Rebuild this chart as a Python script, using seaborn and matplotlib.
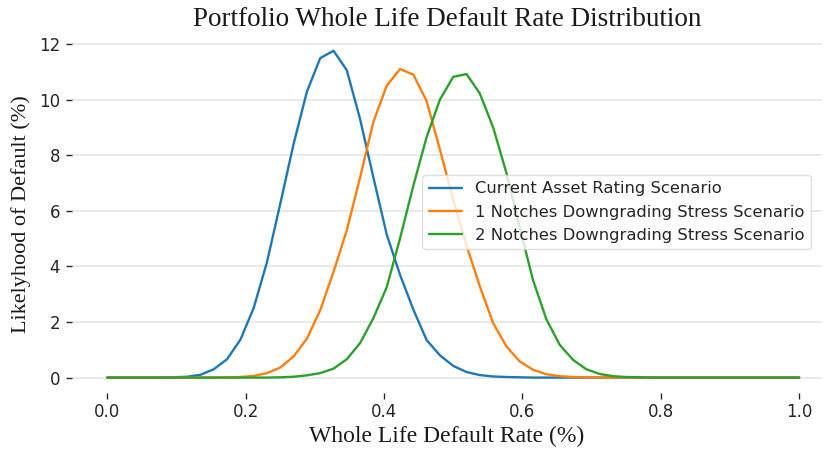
import numpy as np
import pandas as pd
import matplotlib
matplotlib.use("Agg")
import matplotlib.pyplot as plt
import seaborn as sns

# ---- data ----
default_rate = [i / 52 for i in range(53)]

current = [0, 0, 0, 0, 0, 0.01, 0.03, 0.10, 0.30, 0.66,
           1.36, 2.50, 4.15, 6.25, 8.40, 10.28, 11.49, 11.76, 11.06, 9.30,
           7.20, 5.15, 3.70, 2.45, 1.35, 0.80, 0.42, 0.20, 0.09, 0.04,
           0.02, 0.01, 0, 0, 0, 0, 0, 0, 0, 0,
           0, 0, 0, 0, 0, 0, 0, 0, 0, 0,
           0, 0, 0]

one_notch = [0, 0, 0, 0, 0, 0, 0, 0, 0, 0.01,
             0.02, 0.06, 0.16, 0.36, 0.76, 1.40, 2.42, 3.80, 5.30, 7.20,
             9.20, 10.50, 11.10, 10.90, 9.95, 8.20, 6.40, 4.75, 3.28, 1.96,
             1.12, 0.58, 0.28, 0.12, 0.05, 0.02, 0.01, 0, 0, 0,
             0, 0, 0, 0, 0, 0, 0, 0, 0, 0,
             0, 0, 0]

two_notch = [0, 0, 0, 0, 0, 0, 0, 0, 0, 0,
             0, 0, 0, 0.01, 0.03, 0.08, 0.16, 0.32, 0.66, 1.24,
             2.14, 3.25, 5.00, 6.90, 8.65, 10.00, 10.82, 10.92, 10.22, 9.00,
             7.36, 5.40, 3.50, 2.10, 1.18, 0.64, 0.30, 0.13, 0.05, 0.02,
             0.01, 0, 0, 0, 0, 0, 0, 0, 0, 0,
             0, 0, 0]

series_names = ["Current Asset Rating Scenario",
                "1 Notches Downgrading Stress Scenario",
                "2 Notches Downgrading Stress Scenario"]
series_values = [current, one_notch, two_notch]
colors = ["#1f77b4", "#ff7f0e", "#2ca02c"]

x_ticks = [0.0, 0.2, 0.4, 0.6, 0.8, 1.0]
y_ticks = [0, 2, 4, 6, 8, 10, 12]

# ---- style ----
sns.set_theme(style="white")
plt.rcParams["font.family"] = ["DejaVu Sans"]

fig = plt.figure(figsize=(8.24, 4.5), dpi=100)
ax = fig.add_axes([72 / 824, (450 - 393) / 450, (822 - 72) / 824, (393 - 34.3) / 450])

for name, vals, col in zip(series_names, series_values, colors):
    df = pd.DataFrame({"rate": default_rate, "likelihood": vals})
    sns.lineplot(data=df, x="rate", y="likelihood", ax=ax, color=col,
                 linewidth=1.7, label=name, legend=False)

ax.set_xlim(-0.051, 1.033)
ax.set_ylim(-0.555, 12.35)
ax.set_xticks(x_ticks)
ax.set_yticks(y_ticks)
ax.set_xticklabels([f"{t:.1f}" for t in x_ticks])
ax.set_yticklabels([str(t) for t in y_ticks])

ax.yaxis.grid(True, color="#e6e6e6", linewidth=1.2)
ax.xaxis.grid(False)
for s in ax.spines.values():
    s.set_visible(False)

ax.tick_params(axis="both", which="major", labelsize=12, colors="#262626",
               length=4.5, width=1.0, direction="out", pad=4,
               bottom=True, left=True)
ax.tick_params(axis="x", pad=3)

serif = ["Liberation Serif", "DejaVu Serif"]
ax.set_title("Portfolio Whole Life Default Rate Distribution",
             fontsize=19.5, family=serif, color="#1a1a1a", pad=6)
ax.set_xlabel("Whole Life Default Rate (%)", fontsize=17, family=serif,
              color="#1a1a1a", labelpad=3)
ax.set_ylabel("Likelyhood of Default (%)", fontsize=16, family=serif,
              color="#1a1a1a", labelpad=6)

leg = ax.legend(loc="upper left", bbox_to_anchor=(0.467, 0.608),
                borderaxespad=0, fontsize=11.8, frameon=True, framealpha=0.8,
                edgecolor="#d6d6d6", fancybox=True)
for t in leg.get_texts():
    t.set_color("#262626")

fig.savefig("out.png", dpi=100)
